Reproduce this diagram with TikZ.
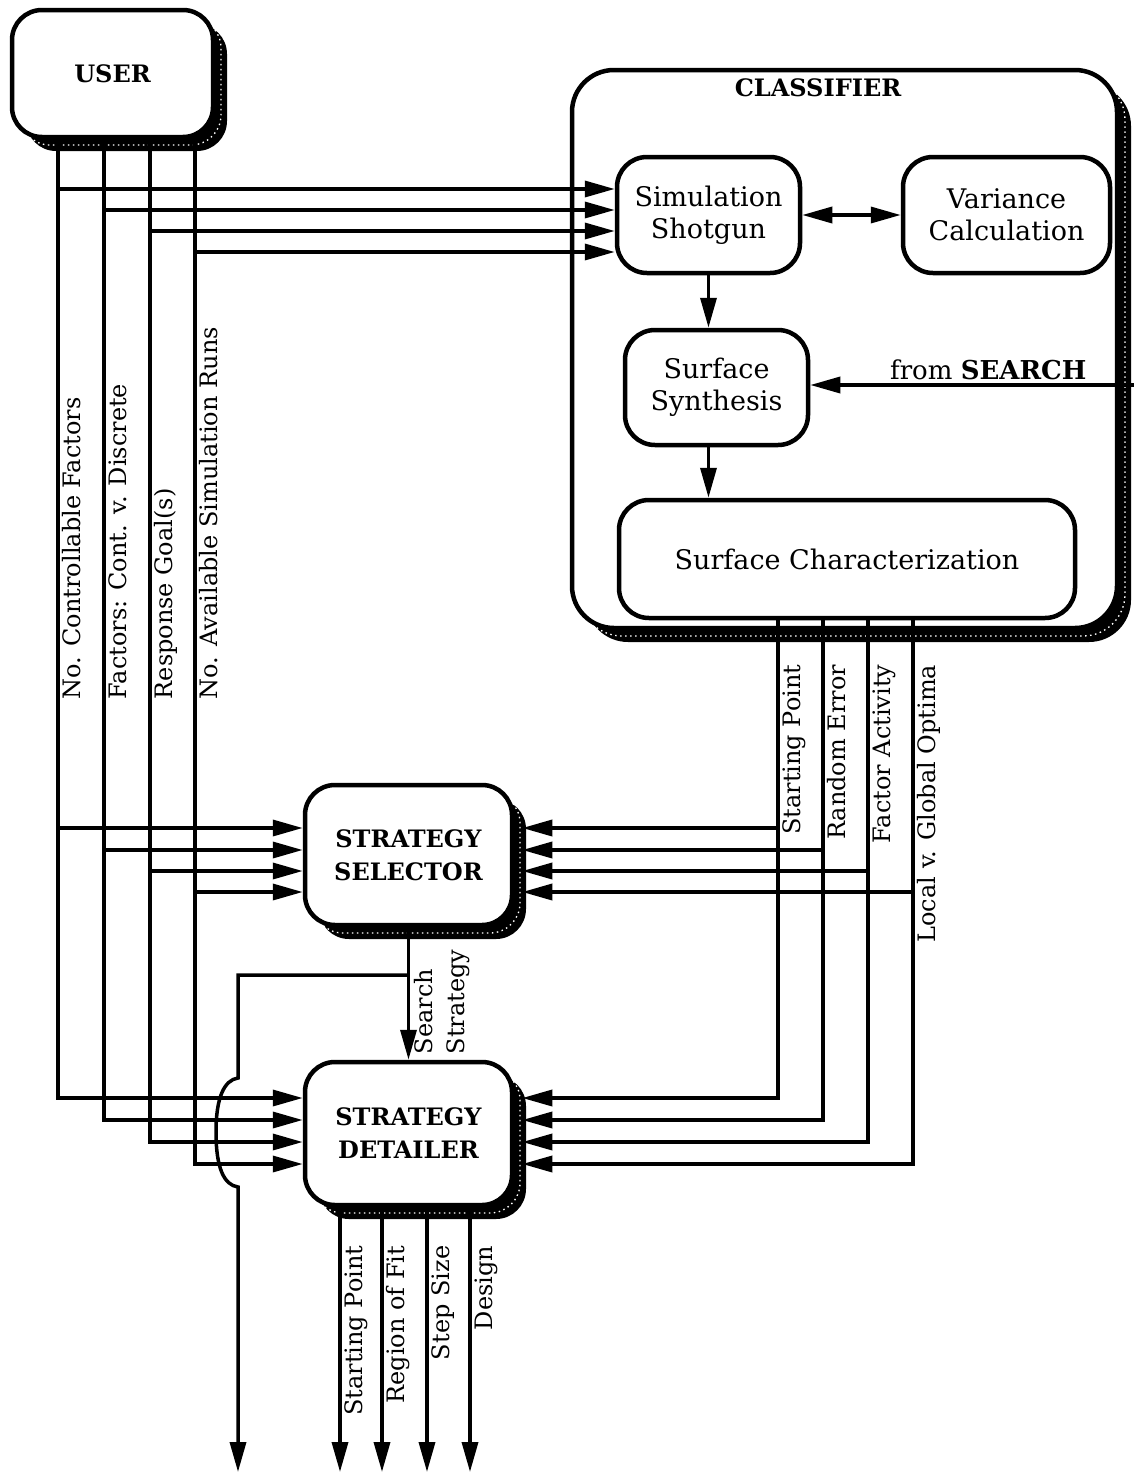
\documentclass[tikz,border=0pt]{standalone}
\usepackage{fontspec}
\setmainfont{DejaVu Serif}
\usetikzlibrary{arrows.meta}

\begin{document}
\begin{tikzpicture}[x=1pt, y=-1pt, line width=3.5pt,
  >={Triangle[length=30pt,width=16pt]},
  every node/.style={align=center, font=\fontsize{27}{32}\selectfont},
  box/.style={draw, line width=4.5pt, rounded corners=30pt, fill=white},
  shbox/.style={box,
    preaction={fill=black, transform canvas={shift={(14pt,-14pt)}}},
    preaction={draw=white, line width=1.3pt, dash pattern=on 1.5pt off 3.5pt,
               transform canvas={shift={(8pt,-8pt)}}}},
  big/.style={font=\fontsize{24}{33}\selectfont\bfseries},
  lbl/.style={rotate=90, inner sep=1pt, align=left, font=\fontsize{24}{32}\selectfont}]
\useasboundingbox (0,0) rectangle (1134,1475);

\node[shbox, big, minimum width=201pt, minimum height=127pt] (user) at (112.5,73.5) {USER};
\node[shbox, rounded corners=42pt, minimum width=545pt, minimum height=558pt] (cls) at (844.5,349) {};
\node[big] (clstitle) at (818,88) {CLASSIFIER};
\node[box, minimum width=183pt, minimum height=116pt] (sim) at (708.5,215) {Simulation\\Shotgun};
\node[box, minimum width=207pt, minimum height=116pt] (var) at (1006.5,215) {Variance\\Calculation};
\node[box, minimum width=183pt, minimum height=115pt] (synth) at (716.5,387.5) {Surface\\Synthesis};
\node[box, minimum width=456pt, minimum height=118pt] (char) at (847,559) {Surface Characterization};
\node[shbox, big, minimum width=207pt, minimum height=140pt] (sel) at (408.5,855) {STRATEGY\\SELECTOR};
\node[shbox, big, minimum width=207pt, minimum height=143pt] (det) at (408.5,1133.5) {STRATEGY\\DETAILER};
\coordinate (selr) at ([xshift=8pt]sel.east);
\coordinate (detr) at ([xshift=8pt]det.east);
\coordinate (search) at (1134,385);
\coordinate (jt) at (sel.south |- 0,975);
\coordinate (out) at (238,1472);

\draw[->] (sim.south) -- (sim.south |- synth.north);
\draw[->] (synth.south -| sim.south) -- (sim.south |- char.north);
\draw[<->] (sim.east) -- (var.west);
\draw[->] (search) -- (search -| synth.east)
  node[pos=.45, above, font=\fontsize{26}{30}\selectfont] {from \textbf{SEARCH}};

\foreach \x/\a/\b/\c/\t in {58/189/828/1098/No. Controllable Factors,
    104/210/850/1120/Factors: Cont. v. Discrete,
    150/231/871/1142/Response Goal(s),
    195/252/892/1164/No. Available Simulation Runs}{
  \draw[->] (user.south -| \x,0) |- (det.west |- 0,\c);
  \draw[->] (\x,\a) -- (sim.west |- 0,\a);
  \draw[->] (\x,\b) -- (sel.west |- 0,\b);
  \node[lbl, anchor=north west] at (\x+2,702) {\t};
}

\foreach \x/\b/\c/\t in {778/828/1098/Starting Point, 823/850/1120/Random Error,
    868/871/1142/Factor Activity, 913/892/1164/Local v. Global Optima}{
  \draw[->] (char.south -| \x,0) |- (detr |- 0,\c);
  \draw[->] (\x,\b) -- (selr |- 0,\b);
  \node[lbl, anchor=north east] at (\x+2,662) {\t};
}

\draw[->] (sel.south) -- (det.north);
\node[lbl, anchor=north west] (ss) at (412,1057) {Search\\Strategy};
\draw[->] (jt) -| (238,1078) .. controls (224,1080) and (216,1098) .. (216,1132)
  .. controls (216,1168) and (224,1185) .. (238,1187) -- (out);

\foreach \x/\t in {340/Starting Point, 382/Region of Fit, 427/Step Size, 470/Design}{
  \coordinate (o\x) at (\x,1472);
  \draw[->] (det.south -| \x,0) -- (o\x);
  \node[lbl, anchor=north east] at (\x+2,1243) {\t};
}
\end{tikzpicture}
\end{document}
